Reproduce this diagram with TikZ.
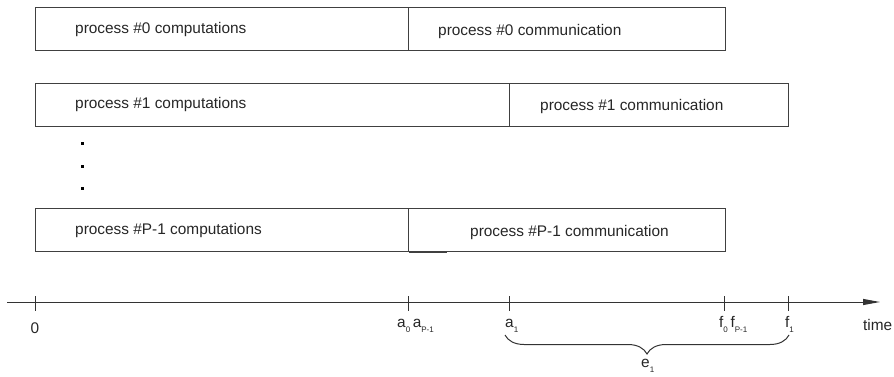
\documentclass[tikz,border=0pt]{standalone}
\usepackage{fontspec}
\setmainfont{Liberation Sans}
\usetikzlibrary{arrows.meta,decorations.pathreplacing}
\newcommand\lowsub[1]{\raisebox{-5.5pt}{\fontsize{8}{8}\selectfont #1}}
\begin{document}
\begin{tikzpicture}[x=1pt,y=-1pt,
  every node/.style={font=\fontsize{15.4}{18}\selectfont, text=black!85, inner sep=0pt},
  box/.style={draw=black!75, line width=1pt, anchor=north west, inner sep=0pt},
  lbl/.style={anchor=base west},
  tick/.style={draw=black!80, line width=1pt},
  dot/.style={fill=black, minimum size=3pt, inner sep=0pt, draw=none}]
\useasboundingbox (0,0) rectangle (894,377);
% process 0
\node[box, minimum width=373pt, minimum height=43pt] (c0) at (35,7) {};
\node[box, minimum width=317pt, minimum height=43pt] (m0) at (408,7) {};
\node[anchor=west] (c0t) at (75,30) {process \#0 computations};
\node[anchor=west] (m0t) at (438,32) {process \#0 communication};
% process 1
\node[box, minimum width=474pt, minimum height=43pt] (c1) at (35,83) {};
\node[box, minimum width=279pt, minimum height=43pt] (m1) at (509,83) {};
\node[anchor=west] (c1t) at (75,105) {process \#1 computations};
\node[anchor=west] (m1t) at (540,107) {process \#1 communication};
% dots
\node[dot] (d1) at (82,144) {};
\node[dot] (d2) at (82,166) {};
\node[dot] (d3) at (82,188) {};
% process P-1
\node[box, minimum width=373pt, minimum height=43pt] (c2) at (35,208) {};
\node[box, minimum width=317pt, minimum height=43pt] (m2) at (408,208) {};
\draw[draw=black!75, line width=1pt] (c2.north east) -- ++(38,0);
\draw[draw=black!75, line width=1pt] (c2.south east) -- ++(38,0);
\node[anchor=west] (c2t) at (75,231) {process \#P-1 computations};
\node[anchor=west] (m2t) at (470,233) {process \#P-1 communication};
% time axis
\coordinate (axs) at (7,302);
\coordinate (axe) at (880,302);
\draw[draw=black!80, line width=1pt, -{Stealth[length=17pt,width=6pt,inset=0pt]}] (axs) -- (axe);
\foreach \n/\x in {t0/35, ta0/408, ta1/509, tf0/724, tf1/788}{
  \coordinate (\n a) at (\x,296);
  \coordinate (\n b) at (\x,311);
  \draw[tick] (\n a) -- (\n b);
}
\node[anchor=base] (l0) at (35,333) {0};
\node[lbl] (la0) at (397,327) {a\lowsub{0}\,a\lowsub{P-1}};
\node[lbl] (la1) at (505,327) {a\lowsub{1}};
\node[lbl] (lf0) at (719,327) {f\lowsub{0}\,f\lowsub{P-1}};
\node[lbl] (lf1) at (785,327) {f\lowsub{1}};
\node[lbl] (lt) at (863,330) {time};
% brace
\coordinate (br0) at (505,335);
\coordinate (br1) at (789,335);
\draw[draw=black!80, line width=1pt, decorate, decoration={brace, mirror, amplitude=19pt}] (br0) -- (br1);
\node[lbl] (le) at (641,367) {e\lowsub{1}};
\end{tikzpicture}
\end{document}
